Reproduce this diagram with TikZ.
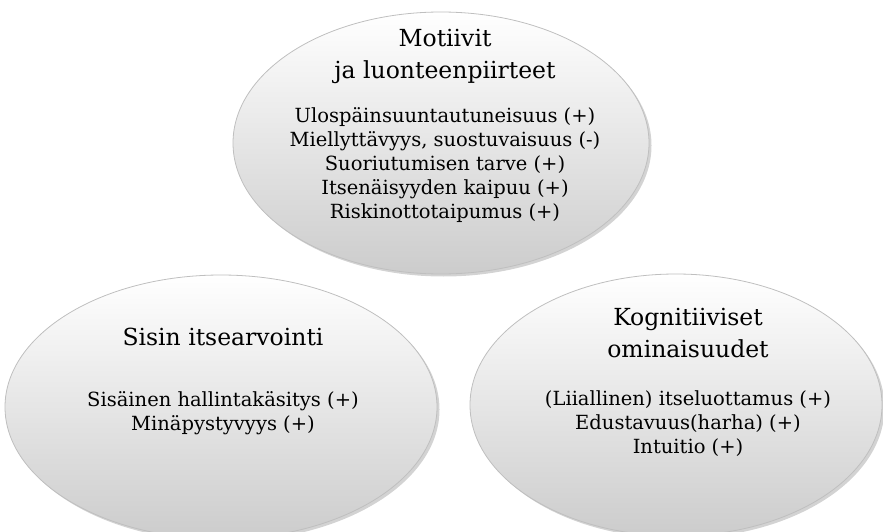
\documentclass[tikz,border=0pt]{standalone}
\usepackage{fontspec}
\setmainfont{DejaVu Serif}
\usetikzlibrary{shadows,shapes.geometric}
\tikzset{
  blob/.style={ellipse, draw=black!25, line width=0.8pt, top color=white, bottom color=black!20,
    inner sep=0pt, drop shadow={opacity=0.35, shadow xshift=2.5pt, shadow yshift=-2.5pt}},
  ttl/.style={font=\fontsize{23.5}{32}\selectfont, align=center, inner sep=0pt},
  body/.style={font=\fontsize{19.5}{24}\selectfont, align=center, inner sep=0pt}
}
\begin{document}
\begin{tikzpicture}[x=1pt,y=-1pt]
\useasboundingbox (0,0) rectangle (883,532);
\node[blob, minimum width=416pt, minimum height=262pt] (top) at (441,143) {};
\node[blob, minimum width=432pt, minimum height=264pt] (left) at (221,407) {};
\node[blob, minimum width=412pt, minimum height=262pt] (right) at (676,405) {};
\node[ttl] (toptitle) at (445,56) {Motiivit\\ja luonteenpiirteet};
\node[body] (topbody) at (445,165) {Ulospäinsuuntautuneisuus (+)\\Miellyttävyys, suostuvaisuus (-)\\Suoriutumisen tarve (+)\\Itsenäisyyden kaipuu (+)\\Riskinottotaipumus (+)};
\node[ttl] (lefttitle) at (223,337) {Sisin itsearvointi};
\node[body] (leftbody) at (223,413) {Sisäinen hallintakäsitys (+)\\Minäpystyvyys (+)};
\node[ttl] (righttitle) at (688,333) {Kognitiiviset\\ominaisuudet};
\node[body] (rightbody) at (688,424) {(Liiallinen) itseluottamus (+)\\Edustavuus(harha) (+)\\Intuitio (+)};
\end{tikzpicture}
\end{document}
